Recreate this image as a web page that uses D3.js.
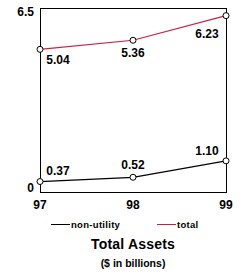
<!DOCTYPE html>
<html>
<meta charset="utf-8">
<title>Total Assets</title>
<script src="https://d3js.org/d3.v7.min.js"></script>
<style>
	body { margin: 0; background: #fff; }
	text { font-family: "Liberation Sans", Arial, sans-serif; font-weight: bold; fill: #000; }
</style>
<body>
<svg id="chart" width="245" height="280"></svg>

<script type="text/javascript">

	// data
	var years = ["97", "98", "99"];
	var nonUtility = [0.37, 0.52, 1.10];
	var total = [5.04, 5.36, 6.23];
	var yTicks = [0, 6.5];
	var seriesNames = ["non-utility", "total"];
	var seriesColors = ["#000000", "#cc2040"];

	var svg = d3.select("#chart");

	var x = d3.scalePoint().domain(years).range([40, 226]);
	var y = d3.scaleLinear().domain([0, 6.5]).range([192, 8]);

	// frame
	svg.append("rect")
		.attr("x", 40.5).attr("y", 8.5)
		.attr("width", 186).attr("height", 184)
		.attr("fill", "none").attr("stroke", "#000").attr("stroke-width", 1);

	// y labels (only ends)
	svg.selectAll(".ylab").data(yTicks).enter().append("text")
		.attr("class", "ylab")
		.attr("x", 34)
		.attr("y", function(d){ return y(d) + (d == 0 ? 0 : 8); })
		.attr("text-anchor", "end")
		.style("font-size", "12px")
		.text(function(d){ return d == 0 ? "0" : d3.format(".1f")(d); });

	// x labels
	svg.selectAll(".xlab").data(years).enter().append("text")
		.attr("class", "xlab")
		.attr("x", function(d){ return x(d); })
		.attr("y", 209)
		.attr("text-anchor", "middle")
		.style("font-size", "12px")
		.text(function(d){ return d; });

	var line = d3.line()
		.x(function(d, i){ return x(years[i]); })
		.y(function(d){ return y(d); });

	function drawSeries(vals, color, labelPos) {
		svg.append("path")
			.datum(vals)
			.attr("d", line)
			.attr("fill", "none")
			.attr("stroke", color)
			.attr("stroke-width", 1.2);

		svg.selectAll(null).data(vals).enter().append("circle")
			.attr("cx", function(d, i){ return x(years[i]); })
			.attr("cy", function(d){ return y(d); })
			.attr("r", 3)
			.attr("fill", "#fff")
			.attr("stroke", "#000")
			.attr("stroke-width", 1);

		svg.selectAll(null).data(vals).enter().append("text")
			.attr("x", function(d, i){ return x(years[i]) + labelPos[i][0]; })
			.attr("y", function(d, i){ return y(d) + labelPos[i][1]; })
			.attr("text-anchor", "middle")
			.style("font-size", "12px")
			.text(function(d){ return d3.format(".2f")(d); });
	}

	// label offsets: [dx to text centre, dy to baseline]
	drawSeries(total, seriesColors[1], [[18, 15], [0, 17], [-19, 22]]);
	drawSeries(nonUtility, seriesColors[0], [[18, -7], [0, -8], [-19, -6]]);

	// legend
	var legendX = [51, 157];
	seriesNames.forEach(function(name, i){
		svg.append("line")
			.attr("x1", legendX[i]).attr("x2", legendX[i] + 19)
			.attr("y1", 224.5).attr("y2", 224.5)
			.attr("stroke", seriesColors[i]).attr("stroke-width", 1);
		svg.append("text")
			.attr("x", legendX[i] + 20)
			.attr("y", 228)
			.style("font-size", "9.5px")
			.style("letter-spacing", "0.3px")
			.text(name);
	});

	// titles
	svg.append("text")
		.attr("x", 133).attr("y", 249)
		.attr("text-anchor", "middle")
		.style("font-size", "14px")
		.style("letter-spacing", "0.2px")
		.text("Total Assets");

	svg.append("text")
		.attr("x", 133).attr("y", 267)
		.attr("text-anchor", "middle")
		.style("font-size", "10.5px")
		.text("($ in billions)");

</script>
</body>
</html>
